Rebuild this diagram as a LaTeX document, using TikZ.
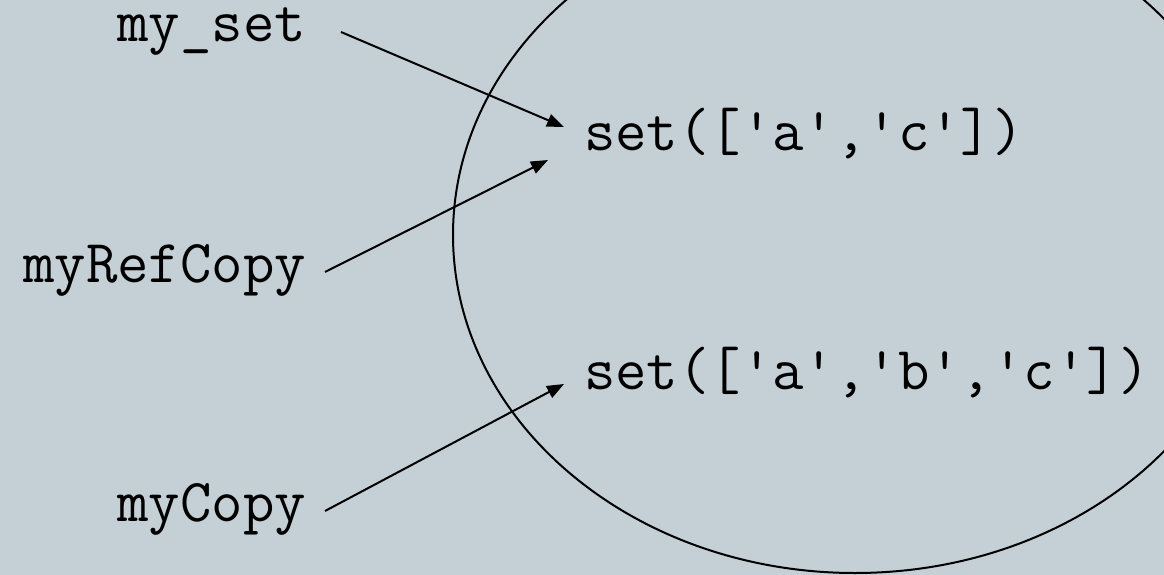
\documentclass[tikz,border=0pt]{standalone}
\usepackage{fontspec}
\usetikzlibrary{arrows.meta}
\definecolor{bgc}{RGB}{197,208,214}
\begin{document}
\begin{tikzpicture}[x=1pt,y=-1pt,
  lbl/.style={font=\ttfamily\fontsize{61}{70}\selectfont, inner sep=0pt, outer sep=0pt, text=black},
  ptr/.style={line width=2pt, -{Triangle[length=17pt,width=13pt]}},
  setshape/.style={line width=2pt}]
\useasboundingbox (0,0) rectangle (1164,575);
\fill[bgc] (0,0) rectangle (1164,575);
\begin{scope}
  \clip (0,0) rectangle (1164,575);
  \draw[setshape] (855,235) ellipse [x radius=402, y radius=338];
\end{scope}
\node[lbl, anchor=base east] (myset)  at (306,42)  {my\_set};
\node[lbl, anchor=base east] (myref)  at (306,282) {myRefCopy};
\node[lbl, anchor=base east] (mycopy) at (306,521) {myCopy};
\node[lbl, anchor=base west] (set1)   at (584,150) {set(['a','c'])};
\node[lbl, anchor=base west] (set2)   at (584,389) {set(['a','b','c'])};
\draw[ptr] ([shift={(35,-10)}]myset.base east)  -- ([shift={(-20,-23)}]set1.base west);
\draw[ptr] ([shift={(19,-10)}]myref.base east)  -- ([shift={(-36,10)}]set1.base west);
\draw[ptr] ([shift={(19,-10)}]mycopy.base east) -- ([shift={(-20,-5)}]set2.base west);
\end{tikzpicture}
\end{document}
